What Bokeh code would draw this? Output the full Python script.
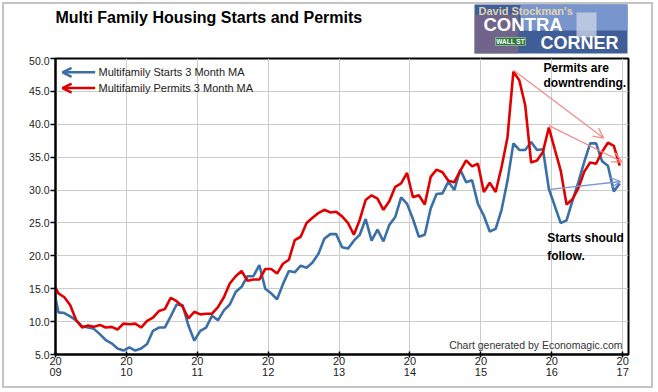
from bokeh.plotting import figure
from bokeh.layouts import column
from bokeh.models import (FixedTicker, PrintfTickFormatter, Label, Arrow, OpenHead,
                          ColumnDataSource, Range1d)
from bokeh.core.properties import value
from bokeh.embed import file_html
from bokeh.resources import INLINE

# ---- data (monthly, 3-month moving averages, thousands of units) ----
first_year = 2008
first_month = 12  # Dec 2008 (clipped at the left edge)

starts_3m_ma = [
    15.8,
    11.4, 11.3, 10.8, 10.2, 9.3, 9.1, 8.9, 8.1, 7.2, 6.7, 5.9, 5.6,
    6.1, 5.6, 5.9, 6.6, 8.6, 9.1, 9.1, 10.8, 12.6, 12.5, 9.4, 7.1,
    8.6, 9.1, 10.9, 10.2, 11.7, 12.6, 14.5, 15.3, 16.9, 16.9, 18.6, 15.0,
    14.3, 13.4, 15.7, 17.7, 17.5, 18.5, 18.2, 19.0, 20.3, 22.6, 23.3, 23.3,
    21.3, 21.1, 22.3, 23.2, 25.6, 22.3, 24.0, 22.2, 24.7, 25.9, 28.9, 27.9,
    25.6, 22.9, 23.2, 27.2, 29.4, 29.5, 31.3, 30.0, 33.1, 31.2, 31.5, 27.9,
    26.1, 23.7, 24.1, 27.0, 31.4, 37.1, 36.1, 36.1, 37.3, 36.1, 36.2, 30.2,
    27.6, 25.0, 25.4, 28.4, 31.2, 34.3, 37.1, 37.1, 34.4, 33.7, 29.8, 31.0,
]

permits_3m_ma = [
    16.0,
    14.3, 13.7, 12.5, 10.2, 9.1, 9.4, 9.2, 9.5, 9.1, 9.2, 8.8, 9.7,
    9.6, 9.7, 9.1, 10.1, 10.6, 11.6, 11.9, 13.6, 13.1, 12.3, 10.5, 11.5,
    11.1, 11.2, 11.2, 12.2, 13.7, 15.8, 16.9, 17.7, 16.2, 16.4, 16.4, 18.0,
    18.0, 17.3, 18.8, 19.4, 22.4, 22.9, 25.0, 25.8, 26.5, 27.0, 26.6, 26.7,
    26.0, 25.0, 23.2, 25.5, 28.5, 29.2, 28.7, 27.0, 28.3, 30.5, 31.0, 32.6,
    28.9, 29.2, 27.8, 32.0, 33.1, 32.7, 31.4, 31.2, 32.9, 34.5, 33.6, 34.0,
    29.7, 31.1, 29.7, 33.5, 38.0, 48.0, 46.7, 42.9, 34.2, 34.5, 35.8, 39.5,
    36.2, 33.0, 27.8, 28.6, 30.3, 32.8, 34.2, 34.0, 35.8, 37.2, 36.7, 33.7,
]

year_ticks = [2009, 2010, 2011, 2012, 2013, 2014, 2015, 2016, 2017]
y_ticks = [5, 10, 15, 20, 25, 30, 35, 40, 45, 50]

series_names = ["Multifamily Starts 3 Month MA", "Multifamily Permits 3 Month MA"]
title_text = "Multi Family Housing Starts and Permits"

# trend arrows (decimal year, value)
permit_trend_1 = [(2015.46, 48.2), (2016.73, 37.9)]
permit_trend_2 = [(2015.96, 39.8), (2016.99, 34.3)]
starts_trend = [(2015.98, 30.1), (2016.97, 31.3)]

# ---- derived x positions (mid-month, decimal years) ----
x_vals = [first_year + (first_month - 1 + i + 0.5) / 12.0 for i in range(len(starts_3m_ma))]
src = ColumnDataSource(dict(x=x_vals, starts=starts_3m_ma, permits=permits_3m_ma))

FONT = "Liberation Sans"
BLUE = "#3a6fa7"
RED = "#e00000"
W = 647

# ---------------- header strip (title + logo), page-pixel coordinates ----------------
# the frame of this strip is aligned by the column with the main chart frame (x 55..628)
top = figure(width=W, height=52, output_backend="svg", toolbar_location=None,
             x_range=Range1d(55, 628), y_range=Range1d(56, 4),
             x_axis_location=None, y_axis_location=None, min_border=0)
top.grid.visible = False
top.outline_line_color = None
top.background_fill_color = "white"
top.border_fill_color = "white"

top.text(x=[55], y=[16.5], text=[title_text], text_font=value(FONT), text_font_size="16px",
         text_font_style="bold", text_color="black", text_baseline="middle", text_align="left")

# logo block
top.quad(left=[474], right=[627], top=[3], bottom=[53], fill_color="#3f5d97", line_color=None)
top.quad(left=[520], right=[627], top=[3], bottom=[30], fill_color="#7895cd", line_color=None)
top.quad(left=[474], right=[518], top=[14], bottom=[53], fill_color="#9a6a80", line_color=None, fill_alpha=0.55)
top.quad(left=[576], right=[596], top=[12], bottom=[37], fill_color="#c9d2e3", line_color=None, fill_alpha=0.8)
top.quad(left=[495], right=[525], top=[37], bottom=[45], fill_color="#2f7a3c", line_color="#cfe8cf", line_width=0.5)
top.text(x=[478], y=[10], text=["David Stockman's"], text_font=value(FONT), text_font_size="11px",
         text_font_style="bold", text_color="#e3d3ad", text_baseline="middle")
top.text(x=[483], y=[23.5], text=["CONTRA"], text_font=value(FONT), text_font_size="18.5px",
         text_font_style="bold", text_color="white", text_baseline="middle")
top.text(x=[540], y=[42], text=["CORNER"], text_font=value(FONT), text_font_size="18px",
         text_font_style="bold", text_color="white", text_baseline="middle")
top.text(x=[510], y=[41], text=["WALL ST"], text_font=value(FONT), text_font_size="6.5px",
         text_font_style="bold", text_color="white", text_baseline="middle", text_align="center")

# ---------------- main chart ----------------
p = figure(width=W, height=330, output_backend="svg", toolbar_location=None,
           x_range=(2009, 2017.082), y_range=(5, 50),
           min_border_left=51, min_border_top=2, min_border_right=23, min_border_bottom=32)
p.background_fill_color = "white"
p.border_fill_color = "white"
p.outline_line_color = "black"
p.outline_line_width = 2

p.xaxis.ticker = FixedTicker(ticks=year_ticks)
p.xaxis.major_label_overrides = {y: "20\n" + str(y)[2:] for y in year_ticks}
p.xaxis.major_label_text_font = FONT
p.xaxis.major_label_text_font_size = "11px"
p.xaxis.major_label_text_color = "#222222"
p.xaxis.major_label_text_line_height = 0.95
p.xaxis.major_label_standoff = -3
p.xaxis.major_tick_in = 3
p.xaxis.major_tick_out = 3
p.xaxis.minor_tick_line_color = None
p.xaxis.axis_line_width = 2
p.xaxis.major_tick_line_width = 1.5

p.yaxis.ticker = FixedTicker(ticks=y_ticks)
p.yaxis.formatter = PrintfTickFormatter(format="%.1f")
p.yaxis.major_label_text_font = FONT
p.yaxis.major_label_text_font_size = "10.5px"
p.yaxis.major_label_text_color = "#222222"
p.yaxis.major_label_standoff = 1
p.yaxis.major_tick_in = 0
p.yaxis.major_tick_out = 5
p.yaxis.minor_tick_line_color = None
p.yaxis.axis_line_width = 2
p.yaxis.major_tick_line_width = 1.5

p.xgrid.ticker = FixedTicker(ticks=year_ticks)
p.ygrid.ticker = FixedTicker(ticks=y_ticks)
p.grid.grid_line_color = "#cccccc"
p.grid.grid_line_width = 1

# series
p.line("x", "starts", source=src, line_color=BLUE, line_width=2.6)
p.line("x", "permits", source=src, line_color=RED, line_width=2.6)

# legend (arrows pointing left + text)
for name, col, yy in [(series_names[0], BLUE, 47.9), (series_names[1], RED, 45.5)]:
    p.add_layout(Arrow(end=OpenHead(size=9, line_color=col, line_width=2.5),
                       x_start=2009.56, y_start=yy, x_end=2009.10, y_end=yy,
                       line_color=col, line_width=2.5))
    p.add_layout(Label(x=2009.606, y=yy, text=name, text_font=FONT, text_font_size="11px",
                       text_color="#222222", text_baseline="middle", text_align="left"))

# trend arrows
for seg, col in [(permit_trend_1, "#f28b8b"), (permit_trend_2, "#f28b8b"), (starts_trend, "#7a96d4")]:
    (x0, y0), (x1, y1) = seg
    p.add_layout(Arrow(end=OpenHead(size=10, line_color=col, line_width=1.3),
                       x_start=x0, y_start=y0, x_end=x1, y_end=y1,
                       line_color=col, line_width=1.3))

# annotation texts
for txt, xx, yy in [("Permits are", 2015.883, 48.52), ("downtrending.", 2015.883, 46.24),
                    ("Starts should", 2015.935, 22.68), ("follow.", 2015.935, 20.05)]:
    p.add_layout(Label(x=xx, y=yy, text=txt, text_font=FONT, text_font_size="12px",
                       text_font_style="bold", text_color="black",
                       text_baseline="middle", text_align="left"))

p.add_layout(Label(x=2016.997, y=6.37, text="Chart generated by Economagic.com",
                   text_font=FONT, text_font_size="10.5px", text_color="#333333",
                   text_baseline="middle", text_align="right"))

page = column(top, p, spacing=0,
              styles={"border": "2px solid #c4c4c4", "margin": "2px"})

open("out.html", "w").write(file_html(page, INLINE))
